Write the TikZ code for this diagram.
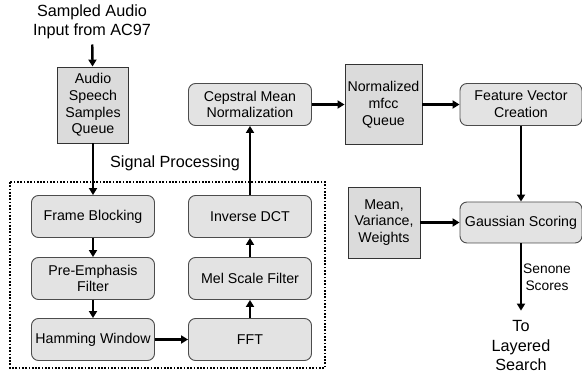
\documentclass[tikz,border=0pt]{standalone}
\usepackage{fontspec}
\setmainfont{Liberation Sans}
\usetikzlibrary{arrows.meta}
\begin{document}
\begin{tikzpicture}[x=1pt,y=-1pt,
  boxfont/.style={font=\fontsize{14.2}{16.7}\selectfont},
  rbox/.style={boxfont, draw=black!70, line width=0.9pt, rounded corners=7pt,
    fill=black!11, minimum width=123pt, minimum height=42pt, align=center, inner sep=0pt},
  qbox/.style={boxfont, draw=black!80, line width=0.9pt, fill=black!14,
    align=center, inner sep=0pt},
  ext/.style={font=\fontsize{16.2}{19.5}\selectfont, align=center, inner sep=2pt},
  flow/.style={line width=2.4pt, -{Triangle[length=7pt,width=8pt]}},
  group/.style={line width=2pt, dash pattern=on 1.7pt off 1.6pt}]
\useasboundingbox (0,0) rectangle (582,377);

% input and first queue
\node[ext] (src) at (92,22) {Sampled Audio\\Input from AC97};
\node[qbox, minimum width=71pt, minimum height=76pt] (aq) at (93,105)
  {Audio\\Speech\\Samples\\Queue};

% signal processing group
\draw[group] (10,182) rectangle (325,368);
\node[ext] (sp) at (175,163) {Signal Processing};

\node[rbox] (fb)   at (93,216.5)  {Frame Blocking};
\node[rbox] (pe)   at (93,278.5)  {Pre-Emphasis\\Filter};
\node[rbox] (hw)   at (93,339.5)  {Hamming Window};
\node[rbox] (fft)  at (250,339.5) {FFT};
\node[rbox] (mel)  at (250,278.5) {Mel Scale Filter};
\node[rbox] (idct) at (250,216.5) {Inverse DCT};

% back end
\node[rbox] (cmn) at (250,104.5) {Cepstral Mean\\Normalization};
\node[qbox, minimum width=77pt, minimum height=80pt] (nq) at (383.5,104.5)
  {Normalized\\mfcc\\Queue};
\node[rbox, minimum width=122pt] (fv) at (521,104.5) {Feature Vector\\Creation};
\node[qbox, minimum width=72pt, minimum height=71pt] (mv) at (384,222.5)
  {Mean,\\Variance,\\Weights};
\node[rbox, minimum width=122pt, minimum height=41pt] (gs) at (521,222.5)
  {Gaussian Scoring};
\node[ext] (dest) at (521,346) {To\\Layered\\Search};

% connectors
\draw[flow, shorten <=3pt] (src) -- (aq);
\draw[flow] (aq) -- (fb);
\draw[flow] (fb) -- (pe);
\draw[flow] (pe) -- (hw);
\draw[flow] (hw) -- (fft);
\draw[flow] (fft) -- (mel);
\draw[flow] (mel) -- (idct);
\draw[flow] (idct) -- (cmn);
\draw[flow] (cmn) -- (nq);
\draw[flow] (nq) -- (fv);
\draw[flow] (fv) -- (gs);
\draw[flow] (mv) -- (gs);
\draw[flow, shorten >=8pt] (gs) -- node[right, inner sep=1pt, pos=0.45,
  font=\fontsize{13.8}{16.7}\selectfont, align=center] {Senone\\Scores} (dest);
\end{tikzpicture}
\end{document}
